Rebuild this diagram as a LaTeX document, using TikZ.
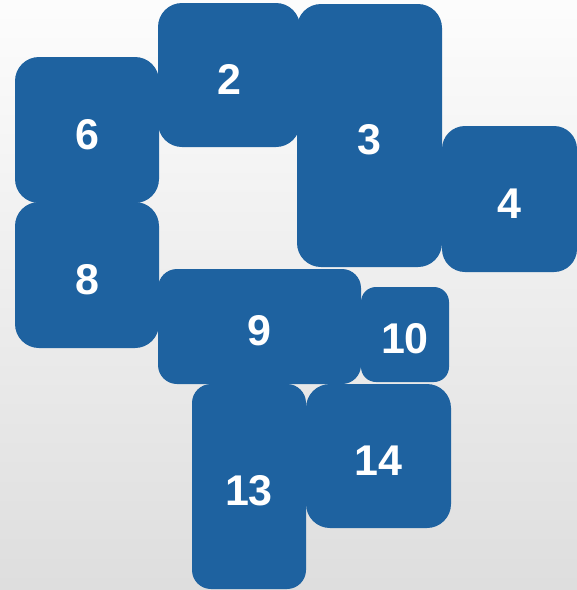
\documentclass[tikz,border=0pt]{standalone}
\usepackage{fontspec}
\setmainfont{Liberation Sans}
\usepackage{tikz}
\usetikzlibrary{positioning}

\definecolor{tileblue}{RGB}{30,98,160}

\begin{document}
\begin{tikzpicture}[x=1pt, y=-1pt,
  tile/.style={fill=tileblue, text=white, inner sep=0pt, outer sep=0pt,
    text height=38pt, text depth=0pt,
    font=\fontsize{43}{46}\selectfont\bfseries}]

% =========================
% BACKGROUND
% =========================
\shade[top color=black!1, bottom color=black!13] (0,0) rectangle (577,590);
\useasboundingbox (0,0) rectangle (577,590);

% =========================
% TOP ROW
% =========================
\node[tile, minimum width=142pt, minimum height=144pt, rounded corners=24pt] (two) at (229,75) {2};
\node[tile, minimum width=145pt, minimum height=263pt, rounded corners=24pt] (three) at (369.5,135.5) {3};
\node[tile, minimum width=135pt, minimum height=146pt, rounded corners=23pt] (four) at (509.5,199) {4};

% Left column
\node[tile, minimum width=144pt, minimum height=146pt, rounded corners=24pt] (six) at (87,130) {6};
\node[tile, minimum width=144pt, minimum height=146pt, rounded corners=24pt] (eight) at (87,275) {8};

% =========================
% MIDDLE ROW
% =========================
\node[tile, minimum width=203pt, minimum height=115pt, rounded corners=19pt] (nine) at (259.5,326.5) {9};
\node[tile, minimum width=88pt, minimum height=95pt, rounded corners=15pt] (ten) at (405,334.5) {10};

% =========================
% BOTTOM ROW
% =========================
\node[tile, minimum width=114pt, minimum height=205pt, rounded corners=19pt] (thirteen) at (249,486.5) {13};
\node[tile, minimum width=145pt, minimum height=144pt, rounded corners=24pt] (fourteen) at (378.5,456) {14};

\end{tikzpicture}
\end{document}
